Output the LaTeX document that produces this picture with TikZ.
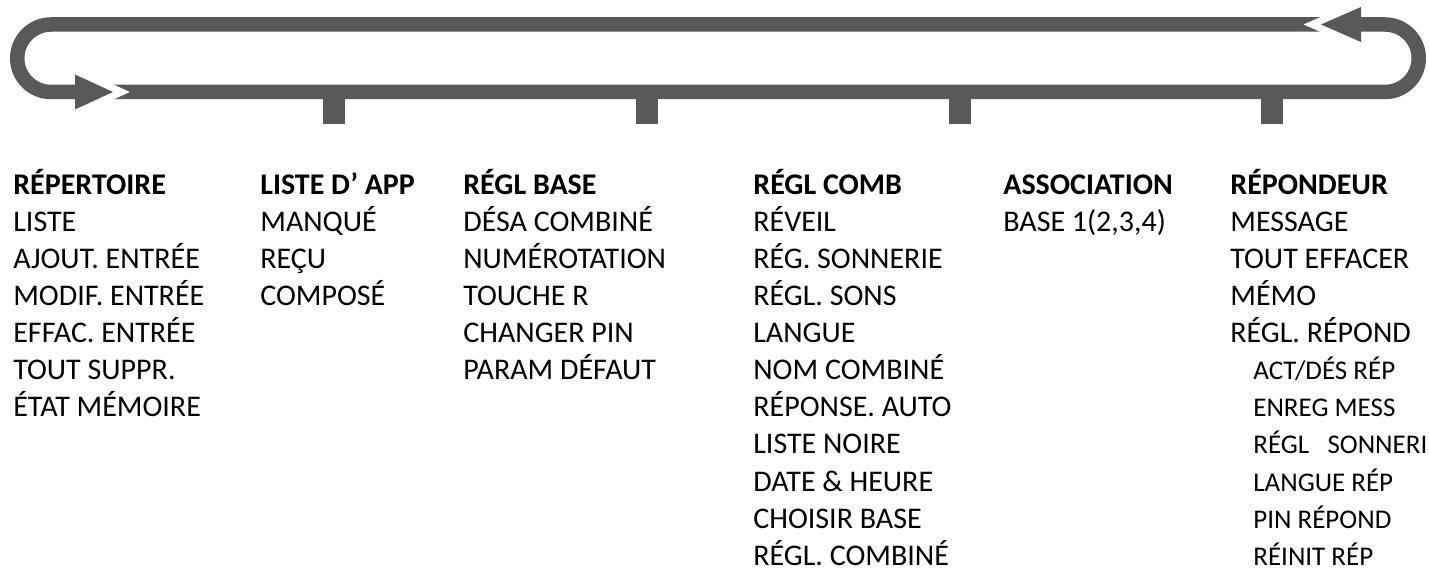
\documentclass[tikz,border=0pt]{standalone}
\usepackage{fontspec}
\setmainfont{Carlito}
\usepackage{xcolor}
\definecolor{railgray}{HTML}{595959}
\usepackage{tikz}
\usetikzlibrary{positioning}

\tikzset{
  rail/.style={draw=railgray, line width=0.29cm},
  menuitem/.style={anchor=base west, inner sep=0pt, font=\fontsize{17.07}{20}\selectfont},
  menuhead/.style={menuitem, font=\fontsize{17.07}{20}\selectfont\bfseries},
  subitem/.style={menuitem, font=\fontsize{15.36}{18}\selectfont}
}

\begin{document}
\begin{tikzpicture}
  \useasboundingbox (0,0) rectangle (28.58,11.52);

  % Loop rail
  \draw[rail] (1.60,9.68) -- (1.02,9.68) arc[start angle=270, end angle=90, radius=0.675] -- (26.42,11.03);
  \draw[rail] (27.10,11.03) -- (27.70,11.03) arc[start angle=90, end angle=-90, radius=0.675] -- (2.26,9.68);

  % Stubs under the rail
  \foreach \x in {6.68, 12.94, 19.20, 25.44}
    \fill[railgray] (\x-0.22,9.68) rectangle (\x+0.22,9.04);

  % Arrow heads (white gap cut into the rail)
  \draw[white, line width=0.28cm, line join=miter] (1.50,10.03) -- (2.26,9.68) -- (1.50,9.33);
  \fill[railgray] (1.50,10.03) -- (2.26,9.68) -- (1.50,9.33) -- cycle;
  \draw[white, line width=0.28cm, line join=miter] (27.22,11.38) -- (26.42,11.03) -- (27.22,10.68);
  \fill[railgray] (27.22,11.38) -- (26.42,11.03) -- (27.22,10.68) -- cycle;

  % Menu headings
  \node[menuhead] (rep) at (0.26,7.62) {RÉPERTOIRE};
  \node[menuhead] (app) at (5.20,7.62) {LISTE D’ APP};
  \node[menuhead] (base) at (9.26,7.62) {RÉGL BASE};
  \node[menuhead] (comb) at (15.06,7.62) {RÉGL COMB};
  \node[menuhead] (assoc) at (20.06,7.62) {ASSOCIATION};
  \node[menuhead] (repond) at (24.60,7.62) {RÉPONDEUR};

  % Menu entries
  \foreach \txt [count=\i] in {LISTE, AJOUT. ENTRÉE, MODIF. ENTRÉE, EFFAC. ENTRÉE, TOUT SUPPR., ÉTAT MÉMOIRE}
    \node[menuitem] (rep\i) at (0.26,7.62-0.74*\i) {\txt};
  \foreach \txt [count=\i] in {MANQUÉ, REÇU, COMPOSÉ}
    \node[menuitem] (app\i) at (5.20,7.62-0.74*\i) {\txt};
  \foreach \txt [count=\i] in {DÉSA COMBINÉ, NUMÉROTATION, TOUCHE R, CHANGER PIN, PARAM DÉFAUT}
    \node[menuitem] (base\i) at (9.26,7.62-0.74*\i) {\txt};
  \foreach \txt [count=\i] in {RÉVEIL, RÉG. SONNERIE, RÉGL. SONS, LANGUE, NOM COMBINÉ,
      RÉPONSE. AUTO, LISTE NOIRE, DATE \& HEURE, CHOISIR BASE, RÉGL. COMBINÉ}
    \node[menuitem] (comb\i) at (15.06,7.62-0.74*\i) {\txt};
  \node[menuitem] (assoc1) at (20.06,6.88) {BASE 1(2,3,4)};
  \foreach \txt [count=\i] in {MESSAGE, TOUT EFFACER, MÉMO, RÉGL. RÉPOND}
    \node[menuitem] (repond\i) at (24.60,7.62-0.74*\i) {\txt};

  % Sub entries of the answering machine settings
  \foreach \txt [count=\i from 5] in {ACT/DÉS RÉP, ENREG MESS, RÉGL\ \ \ SONNERIE, LANGUE RÉP, PIN RÉPOND, RÉINIT RÉP}
    \node[subitem] (sub\i) at (25.06,7.62-0.74*\i) {\txt};
\end{tikzpicture}
\end{document}
